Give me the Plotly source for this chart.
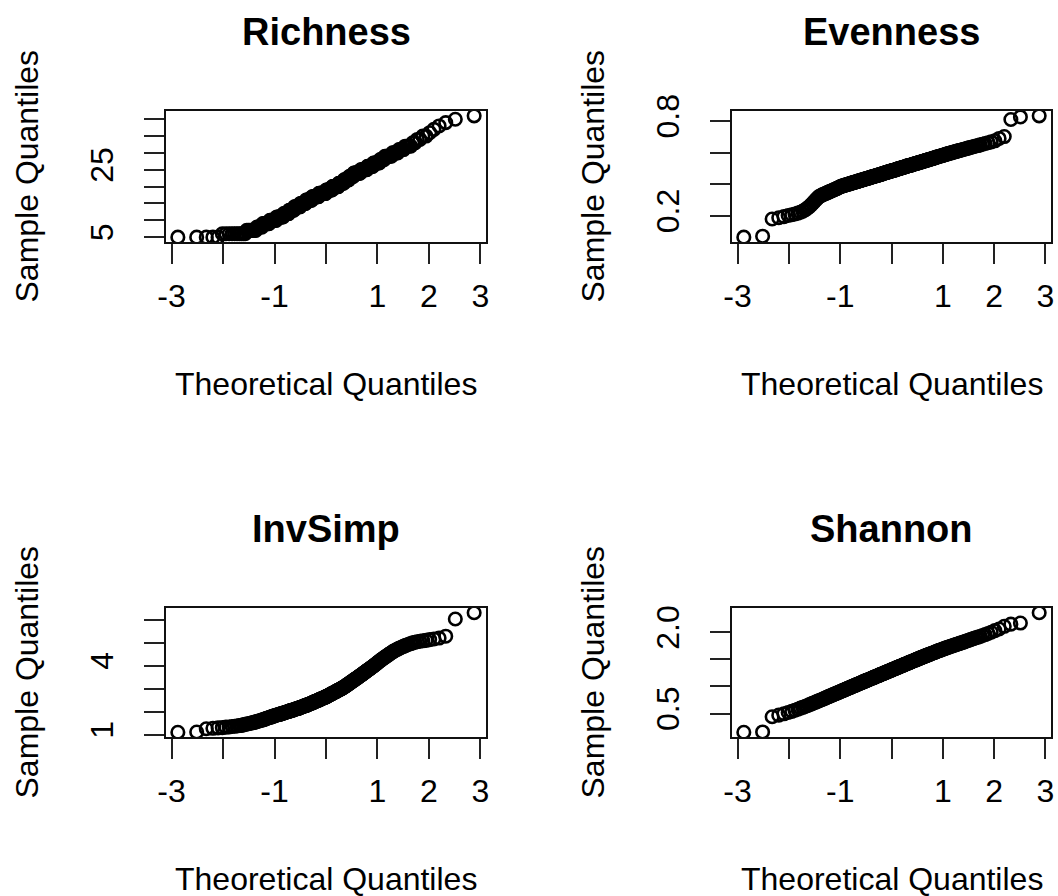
import plotly.graph_objects as go
from statistics import NormalDist

# Sorted sample values (250 samples per index)
richness = [
    5, 5, 5, 5, 5, 6, 6, 6, 6, 6,
    6, 6, 6, 6, 6, 7, 7, 7, 7, 7,
    7, 7, 8, 8, 8, 8, 8, 9, 9, 9,
    9, 9, 9, 9, 10, 10, 10, 10, 10, 10,
    10, 10, 11, 11, 11, 11, 11, 11, 11, 11,
    11, 12, 12, 12, 12, 12, 12, 12, 12, 13,
    13, 13, 13, 13, 13, 13, 13, 14, 14, 14,
    14, 14, 14, 14, 14, 14, 14, 15, 15, 15,
    15, 15, 15, 15, 15, 15, 15, 16, 16, 16,
    16, 16, 16, 16, 16, 16, 16, 16, 17, 17,
    17, 17, 17, 17, 17, 17, 17, 17, 17, 17,
    17, 18, 18, 18, 18, 18, 18, 18, 18, 18,
    18, 18, 18, 18, 18, 19, 19, 19, 19, 19,
    19, 19, 19, 19, 19, 19, 19, 20, 20, 20,
    20, 20, 20, 20, 20, 20, 20, 20, 20, 21,
    21, 21, 21, 21, 21, 21, 21, 21, 21, 22,
    22, 22, 22, 22, 22, 22, 22, 22, 23, 23,
    23, 23, 23, 23, 23, 23, 24, 24, 24, 24,
    24, 24, 24, 24, 24, 24, 24, 25, 25, 25,
    25, 25, 25, 25, 25, 25, 25, 26, 26, 26,
    26, 26, 26, 26, 26, 27, 27, 27, 27, 27,
    27, 27, 27, 28, 28, 28, 28, 28, 29, 29,
    29, 29, 29, 29, 29, 30, 30, 30, 30, 30,
    31, 31, 31, 31, 32, 32, 32, 32, 33, 33,
    34, 34, 35, 35, 36, 37, 38, 39, 40, 41,
]

evenness = [
    0.065, 0.071, 0.180, 0.188, 0.195, 0.202, 0.207, 0.212, 0.217, 0.223,
    0.230, 0.238, 0.247, 0.257, 0.268, 0.279, 0.290, 0.301, 0.311, 0.320,
    0.326, 0.330, 0.334, 0.337, 0.341, 0.344, 0.347, 0.350, 0.353, 0.356,
    0.359, 0.362, 0.364, 0.367, 0.370, 0.372, 0.375, 0.378, 0.381, 0.384,
    0.386, 0.388, 0.389, 0.391, 0.392, 0.394, 0.396, 0.397, 0.399, 0.400,
    0.401, 0.403, 0.404, 0.406, 0.407, 0.408, 0.410, 0.411, 0.412, 0.413,
    0.415, 0.416, 0.417, 0.418, 0.420, 0.421, 0.422, 0.423, 0.424, 0.426,
    0.427, 0.428, 0.429, 0.430, 0.431, 0.433, 0.434, 0.435, 0.436, 0.437,
    0.438, 0.439, 0.440, 0.441, 0.443, 0.444, 0.445, 0.446, 0.447, 0.448,
    0.449, 0.450, 0.451, 0.452, 0.453, 0.454, 0.455, 0.456, 0.457, 0.458,
    0.459, 0.460, 0.461, 0.462, 0.463, 0.464, 0.465, 0.467, 0.468, 0.469,
    0.470, 0.471, 0.472, 0.473, 0.474, 0.475, 0.476, 0.477, 0.478, 0.479,
    0.480, 0.481, 0.482, 0.483, 0.484, 0.485, 0.486, 0.487, 0.488, 0.489,
    0.489, 0.490, 0.491, 0.492, 0.494, 0.495, 0.496, 0.497, 0.498, 0.499,
    0.500, 0.501, 0.502, 0.503, 0.504, 0.505, 0.506, 0.507, 0.508, 0.509,
    0.510, 0.511, 0.512, 0.513, 0.515, 0.516, 0.517, 0.518, 0.519, 0.519,
    0.520, 0.521, 0.522, 0.523, 0.525, 0.526, 0.527, 0.528, 0.529, 0.530,
    0.531, 0.532, 0.533, 0.534, 0.536, 0.537, 0.538, 0.539, 0.540, 0.541,
    0.542, 0.544, 0.545, 0.546, 0.547, 0.548, 0.550, 0.551, 0.552, 0.553,
    0.555, 0.556, 0.557, 0.558, 0.560, 0.561, 0.562, 0.564, 0.565, 0.567,
    0.568, 0.570, 0.571, 0.573, 0.574, 0.576, 0.577, 0.579, 0.580, 0.582,
    0.583, 0.585, 0.587, 0.589, 0.590, 0.592, 0.594, 0.596, 0.597, 0.599,
    0.601, 0.603, 0.605, 0.607, 0.609, 0.611, 0.613, 0.615, 0.617, 0.620,
    0.622, 0.625, 0.627, 0.630, 0.633, 0.636, 0.639, 0.642, 0.645, 0.649,
    0.653, 0.658, 0.663, 0.668, 0.675, 0.690, 0.702, 0.810, 0.826, 0.833,
]

invsimp = [
    1.10, 1.11, 1.25, 1.27, 1.29, 1.30, 1.32, 1.33, 1.35, 1.36,
    1.37, 1.39, 1.40, 1.42, 1.44, 1.46, 1.47, 1.49, 1.50, 1.52,
    1.53, 1.55, 1.57, 1.58, 1.60, 1.61, 1.63, 1.64, 1.66, 1.67,
    1.69, 1.71, 1.72, 1.74, 1.75, 1.76, 1.78, 1.79, 1.80, 1.82,
    1.83, 1.84, 1.85, 1.86, 1.87, 1.88, 1.89, 1.90, 1.91, 1.92,
    1.93, 1.94, 1.95, 1.96, 1.97, 1.98, 1.99, 2.00, 2.01, 2.02,
    2.03, 2.04, 2.05, 2.05, 2.06, 2.07, 2.08, 2.09, 2.10, 2.11,
    2.12, 2.13, 2.13, 2.14, 2.15, 2.16, 2.17, 2.18, 2.19, 2.20,
    2.21, 2.22, 2.23, 2.24, 2.25, 2.26, 2.26, 2.27, 2.28, 2.29,
    2.30, 2.31, 2.32, 2.33, 2.34, 2.35, 2.36, 2.37, 2.38, 2.39,
    2.40, 2.41, 2.42, 2.43, 2.44, 2.45, 2.46, 2.47, 2.48, 2.49,
    2.50, 2.51, 2.52, 2.53, 2.54, 2.55, 2.56, 2.57, 2.58, 2.59,
    2.60, 2.61, 2.62, 2.63, 2.64, 2.65, 2.66, 2.67, 2.68, 2.70,
    2.71, 2.72, 2.73, 2.75, 2.76, 2.77, 2.78, 2.79, 2.81, 2.82,
    2.83, 2.84, 2.85, 2.87, 2.88, 2.89, 2.90, 2.92, 2.93, 2.94,
    2.95, 2.97, 2.98, 2.99, 3.00, 3.02, 3.03, 3.04, 3.06, 3.07,
    3.09, 3.10, 3.12, 3.14, 3.16, 3.17, 3.19, 3.21, 3.22, 3.24,
    3.26, 3.28, 3.30, 3.32, 3.33, 3.35, 3.37, 3.39, 3.41, 3.42,
    3.44, 3.46, 3.48, 3.50, 3.52, 3.54, 3.56, 3.58, 3.60, 3.62,
    3.64, 3.66, 3.68, 3.71, 3.73, 3.75, 3.77, 3.80, 3.82, 3.84,
    3.86, 3.89, 3.91, 3.94, 3.96, 3.99, 4.01, 4.04, 4.07, 4.10,
    4.13, 4.16, 4.19, 4.22, 4.25, 4.28, 4.31, 4.34, 4.37, 4.40,
    4.43, 4.46, 4.50, 4.53, 4.56, 4.60, 4.63, 4.66, 4.69, 4.72,
    4.75, 4.78, 4.81, 4.84, 4.87, 4.90, 4.93, 4.96, 4.99, 5.02,
    5.04, 5.06, 5.08, 5.10, 5.13, 5.16, 5.20, 5.28, 6.03, 6.30,
]

shannon = [
    0.155, 0.160, 0.440, 0.470, 0.495, 0.520, 0.540, 0.560, 0.580, 0.600,
    0.615, 0.630, 0.645, 0.660, 0.675, 0.688, 0.700, 0.712, 0.724, 0.735,
    0.745, 0.755, 0.765, 0.775, 0.785, 0.795, 0.805, 0.813, 0.821, 0.829,
    0.837, 0.845, 0.853, 0.860, 0.868, 0.875, 0.882, 0.889, 0.896, 0.903,
    0.910, 0.916, 0.922, 0.929, 0.935, 0.941, 0.947, 0.953, 0.959, 0.965,
    0.971, 0.977, 0.982, 0.988, 0.993, 0.999, 1.004, 1.009, 1.015, 1.020,
    1.025, 1.030, 1.035, 1.040, 1.045, 1.050, 1.055, 1.060, 1.065, 1.070,
    1.074, 1.079, 1.084, 1.089, 1.093, 1.098, 1.102, 1.107, 1.111, 1.116,
    1.120, 1.125, 1.129, 1.133, 1.138, 1.142, 1.147, 1.151, 1.155, 1.160,
    1.164, 1.168, 1.172, 1.176, 1.180, 1.185, 1.189, 1.193, 1.197, 1.201,
    1.206, 1.210, 1.214, 1.218, 1.222, 1.226, 1.230, 1.234, 1.238, 1.242,
    1.246, 1.250, 1.254, 1.258, 1.262, 1.266, 1.270, 1.274, 1.278, 1.282,
    1.286, 1.290, 1.294, 1.298, 1.302, 1.306, 1.310, 1.314, 1.318, 1.322,
    1.326, 1.330, 1.334, 1.338, 1.342, 1.346, 1.350, 1.354, 1.358, 1.362,
    1.366, 1.370, 1.374, 1.378, 1.382, 1.386, 1.391, 1.395, 1.399, 1.403,
    1.407, 1.411, 1.415, 1.419, 1.424, 1.428, 1.432, 1.436, 1.440, 1.444,
    1.448, 1.453, 1.457, 1.461, 1.466, 1.470, 1.474, 1.479, 1.483, 1.487,
    1.491, 1.496, 1.500, 1.505, 1.509, 1.514, 1.518, 1.523, 1.527, 1.532,
    1.536, 1.541, 1.545, 1.550, 1.555, 1.559, 1.564, 1.569, 1.573, 1.578,
    1.583, 1.588, 1.593, 1.598, 1.603, 1.608, 1.613, 1.618, 1.623, 1.628,
    1.634, 1.639, 1.645, 1.650, 1.656, 1.661, 1.667, 1.672, 1.678, 1.683,
    1.689, 1.695, 1.701, 1.707, 1.713, 1.719, 1.725, 1.731, 1.737, 1.743,
    1.750, 1.757, 1.764, 1.771, 1.778, 1.785, 1.792, 1.800, 1.807, 1.815,
    1.824, 1.834, 1.844, 1.854, 1.865, 1.876, 1.887, 1.899, 1.911, 1.923,
    1.940, 1.958, 1.978, 2.000, 2.030, 2.060, 2.110, 2.150, 2.170, 2.360,
]

titles = ["Richness", "Evenness", "InvSimp", "Shannon"]
series = [richness, evenness, invsimp, shannon]

x_tickvals = [-3, -2, -1, 0, 1, 2, 3]
x_ticktext = ["-3", "", "-1", "", "1", "2", "3"]

y_tickvals = [
    [5, 10, 15, 20, 25, 30, 35, 40],
    [0.2, 0.4, 0.6, 0.8],
    [1, 2, 3, 4, 5, 6],
    [0.5, 1.0, 1.5, 2.0],
]
y_ticktext = [
    ["5", "", "", "", "25", "", "", ""],
    ["0.2", "", "", "0.8"],
    ["1", "", "", "4", "", ""],
    ["0.5", "", "", "2.0"],
]

W, H = 1058, 896

# plot boxes in pixels: (left, right, top, bottom)
boxes = [
    (166, 486, 111, 242),
    (732, 1051, 111, 242),
    (166, 486, 608, 737),
    (732, 1051, 608, 737),
]

FONT = "Liberation Sans, Arial, Helvetica, sans-serif"


def px_x(X):
    return min(max(X / W, 0.0), 1.0)


def px_y(Y):
    return min(max(1 - Y / H, 0.0), 1.0)


def theoretical_quantiles(n):
    a = 0.5 if n > 10 else 3.0 / 8.0
    nd = NormalDist()
    return [nd.inv_cdf((i + 1 - a) / (n + 1 - 2 * a)) for i in range(n)]


def padded(lo, hi, frac=0.04):
    d = (hi - lo) * frac
    return [lo - d, hi + d]


fig = go.Figure()
annotations = []

for k, (name, vals) in enumerate(zip(titles, series)):
    ys = sorted(vals)
    xs = theoretical_quantiles(len(ys))
    ax = "" if k == 0 else str(k + 1)
    fig.add_trace(go.Scatter(
        x=xs, y=ys, mode="markers", xaxis="x" + ax, yaxis="y" + ax,
        marker=dict(symbol="circle-open", size=12.5, color="black",
                    line=dict(width=2.6, color="black")),
        showlegend=False, hoverinfo="x+y",
    ))
    l, r, t, b = boxes[k]
    common = dict(
        showline=True, mirror=True, linecolor="#111", linewidth=1.8,
        showgrid=False, zeroline=False, ticks="outside", ticklen=20,
        tickwidth=1.8, tickcolor="#222", automargin=False,
        tickfont=dict(family=FONT, size=32, color="black"),
    )
    fig.layout["xaxis" + ax] = dict(
        common, domain=[px_x(l), px_x(r)], range=padded(min(xs), max(xs)),
        tickmode="array", tickvals=x_tickvals, ticktext=x_ticktext,
        anchor="y" + ax, ticklabelstandoff=5,
    )
    fig.layout["yaxis" + ax] = dict(
        common, domain=[px_y(b), px_y(t)], range=padded(min(ys), max(ys)),
        tickmode="array", tickvals=y_tickvals[k], ticktext=y_ticktext[k],
        tickangle=-90, anchor="x" + ax, ticklabelstandoff=18,
    )
    cx = px_x((l + r) / 2)
    annotations.append(dict(
        text="<b>%s</b>" % name, x=cx, y=px_y(t - 79), xref="paper", yref="paper",
        xanchor="center", yanchor="middle", showarrow=False,
        font=dict(family=FONT, size=38, color="black"),
    ))
    annotations.append(dict(
        text="Theoretical Quantiles", x=cx, y=px_y(b + 142),
        xref="paper", yref="paper", xanchor="center", yanchor="middle",
        showarrow=False, font=dict(family=FONT, size=32, color="black"),
    ))
    annotations.append(dict(
        text="Sample Quantiles", x=px_x(l - 140), y=px_y((t + b) / 2),
        xref="paper", yref="paper", xanchor="center", yanchor="middle",
        textangle=-90, showarrow=False,
        font=dict(family=FONT, size=32, color="black"),
    ))

fig.update_layout(
    width=W, height=H,
    margin=dict(l=0, r=0, t=0, b=0, autoexpand=False),
    paper_bgcolor="white", plot_bgcolor="white",
    annotations=annotations, font=dict(family=FONT),
)

fig.write_html("out.html")
